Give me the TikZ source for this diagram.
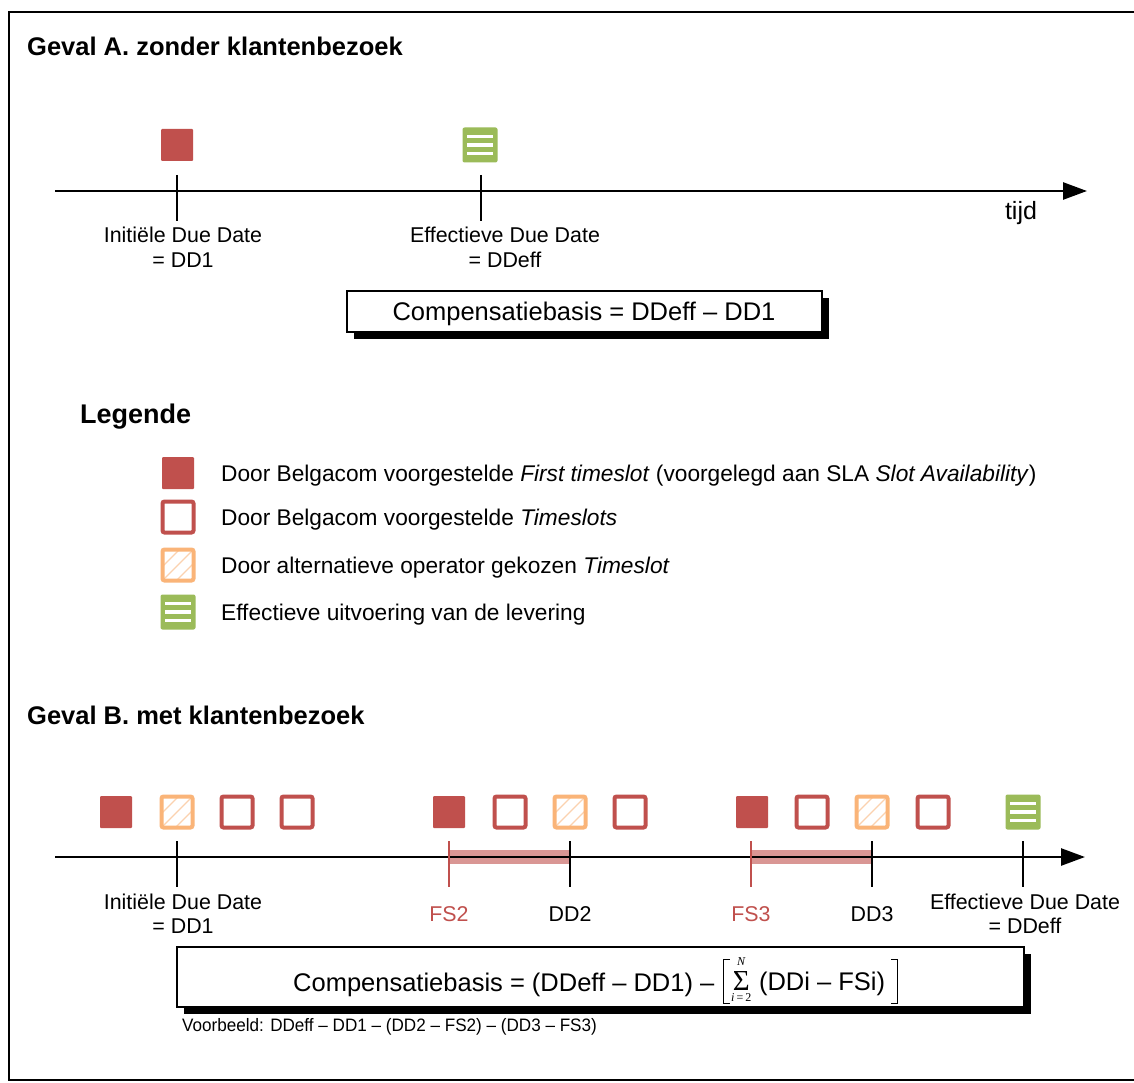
\documentclass[tikz,border=0pt]{standalone}
\usepackage{fontspec}
\setmainfont{Liberation Sans}
\newfontfamily\sumfont{Liberation Serif}
\usepackage{graphicx}
\usetikzlibrary{arrows.meta,shadows,calc}
\definecolor{bred}{RGB}{192,80,77}
\definecolor{bbar}{RGB}{217,150,148}
\definecolor{borange}{RGB}{250,180,120}
\definecolor{bhatch}{RGB}{251,210,175}
\definecolor{bgreen}{RGB}{155,187,89}
\begin{document}
\begin{tikzpicture}[x=1pt,y=-1pt,
  lbl/.style={font=\fontsize{21.4}{25}\selectfont, inner sep=0, anchor=base},
  legtxt/.style={font=\fontsize{22.7}{26}\selectfont, inner sep=0, anchor=base west},
  ttl/.style={font=\bfseries\fontsize{25.5}{30}\selectfont, inner sep=0, anchor=base west},
  axis/.style={line width=2.6, -{Triangle[length=24pt,width=17pt]}},
  tick/.style={line width=2.6},
  redtick/.style={line width=2, draw=bred},
  fsq/.style={fill=bred, minimum size=32, inner sep=0, rounded corners=1},
  osq/.style={draw=bred, line width=4, fill=white, minimum size=31, inner sep=0, rounded corners=2},
  hsq/.style={draw=borange, line width=4, fill=white, minimum size=31, inner sep=0, rounded corners=2,
    path picture={\foreach \d in {-14,0,14}{\draw[bhatch, line width=1.2, sharp corners] ([xshift=\d]path picture bounding box.south west) -- ([xshift=\d]path picture bounding box.north east);}}},
  gsq/.style={fill=bgreen, minimum size=35, inner sep=0, rounded corners=2,
    path picture={\foreach \dy in {-8.5,0,8.5}{\fill[white, sharp corners] ([xshift=-13, yshift=\dy+1.75]path picture bounding box.center) rectangle ++(26,3.5);}}},
  formbox/.style={draw, line width=1.2, fill=white, inner sep=0,
    drop shadow={shadow xshift=7pt, shadow yshift=-7pt, opacity=1, fill=black}},
  formtxt/.style={inner sep=0, anchor=base, font=\fontsize{25.5}{30}\selectfont},
  limtxt/.style={inner sep=0, font=\sumfont\itshape\fontsize{12}{13}\selectfont},
  brk/.style={line width=1.6}
]
\useasboundingbox (0,0) rectangle (1134,1083);
\fill[white] (0,0) rectangle (1134,1083);
\draw[line width=2] (1134,12) -- (9,12) -- (9,1080) -- (1134,1080);

% ---------- Geval A ----------
\node[ttl] (tA) at (27,56) {Geval A. zonder klantenbezoek};
\coordinate (A0) at (55,191);
\coordinate (A1) at (1087,191);
\coordinate (tA1) at (177,191);
\coordinate (tA2) at (481,191);
\draw[axis] (A0) -- (A1);
\draw[tick] ([yshift=16]tA1) -- ([yshift=-30]tA1);
\draw[tick] ([yshift=16]tA2) -- ([yshift=-30]tA2);
\node[fsq] (sA1) at (177,145) {};
\node[gsq] (sA2) at (480,145) {};
\node[lbl] (lA1a) at (183,243) {Initiële Due Date};
\node[lbl] (lA1b) at (183,267) {= DD1};
\node[lbl] (lA2a) at (505,243) {Effectieve Due Date};
\node[lbl] (lA2b) at (505,267) {= DDeff};
\node[font=\fontsize{25}{30}\selectfont, inner sep=0, anchor=base] (tijd) at (1021,220) {tijd};
\node[formbox, minimum width=475, minimum height=41] (bA) at (584.5,311.5) {};
\node[formtxt] (fA) at (584,320) {Compensatiebasis = DDeff – DD1};

% ---------- Legende ----------
\node[ttl, font=\bfseries\fontsize{27}{32}\selectfont] (leg) at (80,423) {Legende};
\node[fsq] (g1) at (178,473) {};
\node[osq] (g2) at (178,517) {};
\node[hsq] (g3) at (178,565) {};
\node[gsq] (g4) at (178,612) {};
\node[legtxt] (lg1) at (221,481) {Door Belgacom voorgestelde \textit{First timeslot} (voorgelegd aan SLA \textit{Slot Availability})};
\node[legtxt] (lg2) at (221,525) {Door Belgacom voorgestelde \textit{Timeslots}};
\node[legtxt] (lg3) at (221,573) {Door alternatieve operator gekozen \textit{Timeslot}};
\node[legtxt] (lg4) at (221,620) {Effectieve uitvoering van de levering};

% ---------- Geval B ----------
\node[ttl] (tB) at (27,724) {Geval B. met klantenbezoek};
\coordinate (B0) at (55,857);
\coordinate (B1) at (1085,857);
\coordinate (tB1) at (177,857);
\coordinate (tFS2) at (449,857);
\coordinate (tDD2) at (570,857);
\coordinate (tFS3) at (751,857);
\coordinate (tDD3) at (872,857);
\coordinate (tB2) at (1023,857);
\fill[bbar] ([yshift=7]tFS2) rectangle ([yshift=-7]tDD2);
\fill[bbar] ([yshift=7]tFS3) rectangle ([yshift=-7]tDD3);
\draw[axis] (B0) -- (B1);
\draw[tick] ([yshift=16]tB1) -- ([yshift=-30]tB1);
\draw[redtick] ([yshift=16]tFS2) -- ([yshift=-30]tFS2);
\draw[tick] ([yshift=16]tDD2) -- ([yshift=-30]tDD2);
\draw[redtick] ([yshift=16]tFS3) -- ([yshift=-30]tFS3);
\draw[tick] ([yshift=16]tDD3) -- ([yshift=-30]tDD3);
\draw[tick] ([yshift=16]tB2) -- ([yshift=-30]tB2);

\node[fsq] (b1) at (116,812) {};
\node[hsq] (b2) at (177,812) {};
\node[osq] (b3) at (237,812) {};
\node[osq] (b4) at (297,812) {};
\node[fsq] (b5) at (449,812) {};
\node[osq] (b6) at (510,812) {};
\node[hsq] (b7) at (570,812) {};
\node[osq] (b8) at (630,812) {};
\node[fsq] (b9) at (752,812) {};
\node[osq] (b10) at (812,812) {};
\node[hsq] (b11) at (872,812) {};
\node[osq] (b12) at (933,812) {};
\node[gsq] (b13) at (1023,812) {};

\node[lbl] (lB1a) at (183,909) {Initiële Due Date};
\node[lbl] (lB1b) at (183,933) {= DD1};
\node[lbl, text=bred] (lFS2) at (449,921) {FS2};
\node[lbl] (lDD2) at (570,921) {DD2};
\node[lbl, text=bred] (lFS3) at (751,921) {FS3};
\node[lbl] (lDD3) at (872,921) {DD3};
\node[lbl] (lB2a) at (1025,909) {Effectieve Due Date};
\node[lbl] (lB2b) at (1025,933) {= DDeff};

\node[formbox, minimum width=847, minimum height=60] (bB) at (600.5,977) {};
\node[formtxt, anchor=base west] (fB1) at (293,991) {Compensatiebasis = (DDeff – DD1) –};
\node[inner sep=0, anchor=base west, font=\sumfont\fontsize{29}{30}\selectfont] (fS) at ([xshift=18,yshift=1]fB1.base east) {Σ};
\node[limtxt, anchor=south] (fN) at ([yshift=5]fS.north) {N};
\node[limtxt, anchor=north] (fI) at ([yshift=-3]fS.south) {i\,\upshape=\,2};
\node[formtxt, anchor=base west] (fB2) at ([xshift=9]fS.base east) {(DDi – FSi)};
\coordinate (lbT) at ($(fB1.east |- bB.north)+(9,13)$);
\coordinate (lbB) at ($(fB1.east |- bB.south)+(9,-4)$);
\coordinate (rbT) at ($(fB2.east |- bB.north)+(12,13)$);
\coordinate (rbB) at ($(fB2.east |- bB.south)+(12,-4)$);
\draw[brk] ([xshift=6]lbT) -- (lbT) -- (lbB) -- ([xshift=6]lbB);
\draw[brk] ([xshift=-6]rbT) -- (rbT) -- (rbB) -- ([xshift=-6]rbB);
\node[inner sep=0, anchor=base west, font=\fontsize{18}{20}\selectfont] (vb) at (182,1031)
  {\scalebox{0.95}[1]{Voorbeeld: DDeff – DD1 – (DD2 – FS2) – (DD3 – FS3)}};
\end{tikzpicture}
\end{document}
